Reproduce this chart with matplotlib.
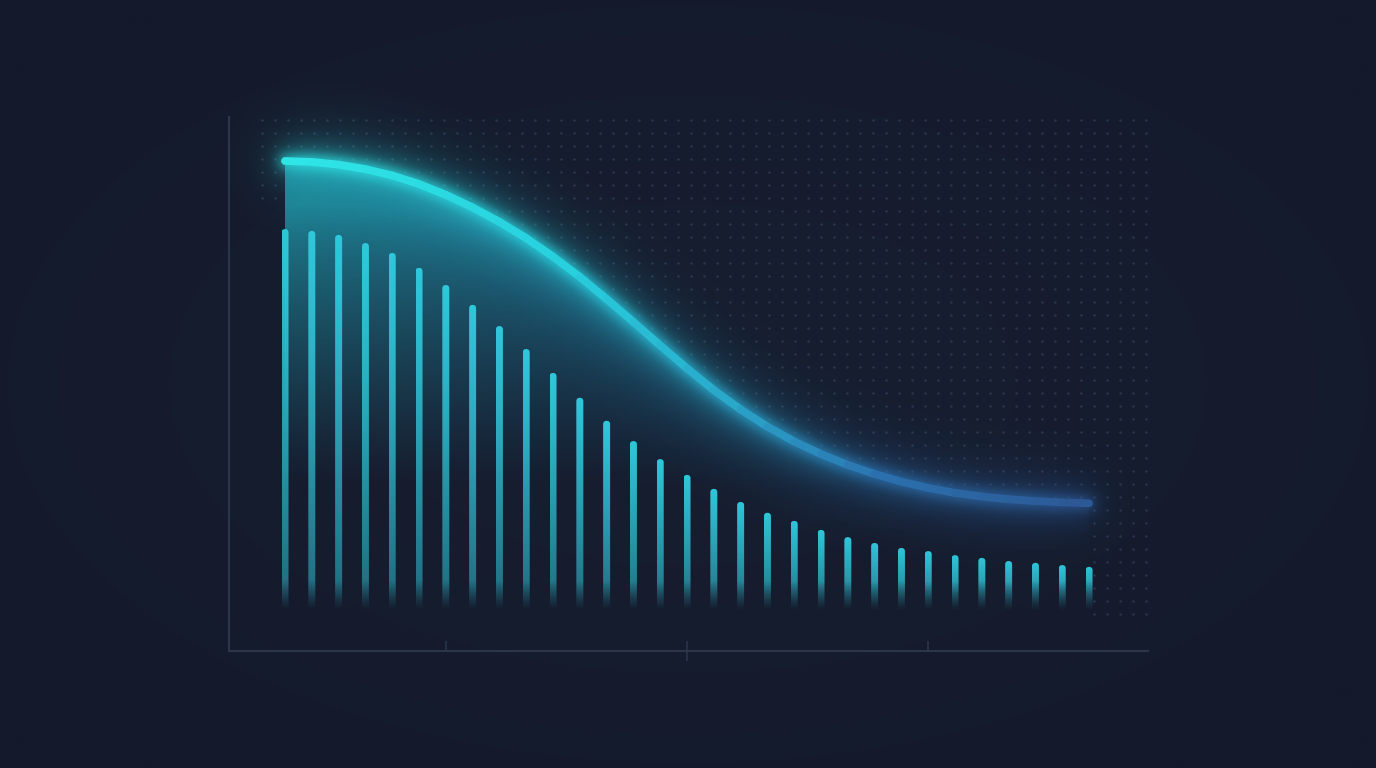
import numpy as np
import matplotlib
matplotlib.use("Agg")
import matplotlib.pyplot as plt
from matplotlib.collections import LineCollection
from matplotlib.colors import LinearSegmentedColormap, to_rgb
from matplotlib.patches import FancyBboxPatch

# ---------------- data ----------------
bar_index = list(range(31))
bar_values = [84.9, 84.5, 83.6, 81.8, 79.6, 76.3, 72.5, 68.1, 63.4, 58.3, 53.0,
              47.5, 42.4, 37.9, 33.9, 30.4, 27.3, 24.4, 22.0, 20.2, 18.2, 16.6,
              15.3, 14.2, 13.5, 12.6, 12.0, 11.3, 10.9, 10.4, 10.0]
curve_values = [100.0, 99.8, 99.2, 98.2, 96.8, 94.9, 92.5, 89.7, 86.5, 82.9, 78.8,
                74.3, 69.4, 64.3, 59.1, 54.0, 49.2, 44.9, 41.1, 37.8, 35.0, 32.6,
                30.6, 28.9, 27.5, 26.4, 25.6, 25.0, 24.6, 24.3, 24.1]
x_ticks_minor = [6, 24]
x_ticks_major = [15]

# ---------------- style ----------------
BG_CENTER = "#171e30"
BG_EDGE = "#141a2b"
AXIS_COLOR = "#2c3649"
DOT_COLOR = "#34405a"
BAR_COLOR = "#31c8dc"
FILL_LEFT = "#2090a2"
FILL_RIGHT = "#1d4478"
line_cmap = LinearSegmentedColormap.from_list(
    "line", [(0.0, "#2fe6e6"), (0.35, "#28d0de"), (0.55, "#2aa8ca"),
             (0.75, "#2b6fae"), (1.0, "#2c5894")])

W, H = 1376, 768
AX_RECT = [229 / W, 117 / H, 919 / W, 534 / H]
XLIM = (-2.09, 32.2)
YLIM = (-8.65, 109.76)

x = np.array(bar_index, dtype=float)
yc = np.array(curve_values)
yb = np.array(bar_values)
pts = np.column_stack([x, yc]).reshape(-1, 1, 2)
segs = np.concatenate([pts[:-1], pts[1:]], axis=1)
seg_cols = line_cmap((x[:-1] + 0.5) / 30.0)


def box_blur(a, r, axis):
    pad = [(0, 0)] * a.ndim
    pad[axis] = (r + 1, r)
    ap = np.pad(a, pad, mode="constant")
    c = np.cumsum(ap, axis=axis)
    n = a.shape[axis]
    hi = np.take(c, np.arange(2 * r + 1, 2 * r + 1 + n), axis=axis)
    lo = np.take(c, np.arange(0, n), axis=axis)
    return (hi - lo) / (2 * r + 1)


def gauss(a, r):
    for _ in range(3):
        a = box_blur(a, r, 0)
        a = box_blur(a, r, 1)
    return a


# ---- offscreen render of the curve for the glow ----
fig2 = plt.figure(figsize=(W / 100, H / 100), dpi=100)
fig2.patch.set_alpha(0)
ax2 = fig2.add_axes(AX_RECT)
ax2.set_xlim(*XLIM)
ax2.set_ylim(*YLIM)
ax2.set_axis_off()
ax2.add_collection(LineCollection(segs, colors=seg_cols, linewidths=9,
                                  capstyle="round", joinstyle="round"))
fig2.canvas.draw()
buf = np.asarray(fig2.canvas.buffer_rgba()).astype(float) / 255.0
plt.close(fig2)
a0 = buf[..., 3]
prgb = buf[..., :3] * a0[..., None]
glow_a = np.zeros_like(a0)
glow_p = np.zeros_like(prgb)
for r, gain in [(5, 0.55), (13, 0.7), (26, 0.55), (40, 0.45)]:
    ab = gauss(a0, r)
    pb = np.stack([gauss(prgb[..., k], r) for k in range(3)], axis=-1)
    glow_a += gain * ab
    glow_p += gain * pb
glow_rgb = glow_p / np.maximum(glow_a, 1e-6)[..., None]
glow_img = np.dstack([np.clip(glow_rgb, 0, 1), np.clip(glow_a, 0, 1)])

# ---------------- main figure ----------------
fig = plt.figure(figsize=(W / 100, H / 100), dpi=100)

# background vignette
bg_ax = fig.add_axes([0, 0, 1, 1], zorder=-10)
yy, xx = np.mgrid[0:1:200j, 0:1:360j]
rr = np.sqrt(((xx - 0.5) / 0.6) ** 2 + ((yy - 0.5) / 0.6) ** 2)
rr = np.clip(rr, 0, 1) ** 1.5
c0, c1 = np.array(to_rgb(BG_CENTER)), np.array(to_rgb(BG_EDGE))
bg_img = c0[None, None, :] * (1 - rr[..., None]) + c1[None, None, :] * rr[..., None]
bg_ax.imshow(bg_img, extent=(0, 1, 0, 1), aspect="auto", interpolation="bicubic")
bg_ax.set_axis_off()

ax = fig.add_axes(AX_RECT)
ax.patch.set_alpha(0)

# dot grid (only above / right of the curve)
gx = np.arange(-0.86, 32.25, 0.485)
gy = np.arange(-0.44, 109.8, 2.88)
GX, GY = np.meshgrid(gx, gy)
limit = np.interp(GX, x, yc, left=88, right=-20)
keep = (GY > limit + 1.0) | (GX > 30.45)
ax.scatter(GX[keep], GY[keep], s=3.0, color=DOT_COLOR, alpha=0.75,
           linewidths=0, zorder=1)

# gradient fill under curve
nx, ny = 400, 300
fx = np.linspace(0, 30, nx)
fy = np.linspace(-1, 101, ny)
FX, FY = np.meshgrid(fx, fy)
cl, cr = np.array(to_rgb(FILL_LEFT)), np.array(to_rgb(FILL_RIGHT))
t = (FX / 30.0)[..., None]
col = cl * (1 - t) + cr * t
curve_at = np.interp(FX, x, yc)
a_y = np.clip((FY - 28) / 66.0, 0, 1) ** 1.1
a_near = np.exp(-np.clip(curve_at - FY, 0, None) / 10.0)
alpha = np.clip(0.85 * a_y + 0.25 * a_near * np.clip((FY - 10) / 20, 0, 1), 0, 0.9)
fill_img = np.dstack([col, alpha])
im = ax.imshow(fill_img, extent=(0, 30, -1, 101), origin="lower",
               aspect="auto", interpolation="bilinear", zorder=2)
poly = ax.fill_between(x, yc, 0, facecolor="none", edgecolor="none")
im.set_clip_path(poly.get_paths()[0], transform=ax.transData)

# bars with vertical fade
bw = 7 / 26.8
ry = 3.5 / 4.51
bar_rgb = np.array(to_rgb(BAR_COLOR))
for xi, h in zip(x, yb):
    patch = FancyBboxPatch((xi - bw / 2, 0), bw, h,
                           boxstyle=f"round,pad=0,rounding_size={bw / 2}",
                           mutation_aspect=ry / (bw / 2),
                           transform=ax.transData)
    v = np.linspace(0, h, 160)
    tt = v / h
    a = np.clip((v - 0.3) / 6.5, 0, 1) ** 1.1 * (0.42 + 0.58 * tt ** 0.8)
    grad = np.zeros((160, 1, 4))
    grad[:, 0, :3] = bar_rgb
    grad[:, 0, 3] = np.clip(a, 0, 1)
    bim = ax.imshow(grad, extent=(xi - bw / 2, xi + bw / 2, 0, h),
                    origin="lower", aspect="auto", interpolation="bilinear",
                    zorder=4)
    bim.set_clip_path(patch)

# glow layer (covers whole figure, in data coordinates)
ppx = 919 / (XLIM[1] - XLIM[0])
ppy = 534 / (YLIM[1] - YLIM[0])
ext = (XLIM[0] - 229 / ppx, XLIM[1] + 228 / ppx,
       YLIM[0] - 117 / ppy, YLIM[1] + 117 / ppy)
ax.imshow(glow_img, extent=ext, origin="upper", aspect="auto",
          interpolation="nearest", zorder=5, clip_on=False)

# main curve
ax.add_collection(LineCollection(segs, colors=seg_cols, linewidths=5.6,
                                 capstyle="round", joinstyle="round", zorder=6))

# axes styling
ax.set_xlim(*XLIM)
ax.set_ylim(*YLIM)
for s in ["top", "right"]:
    ax.spines[s].set_visible(False)
for s in ["left", "bottom"]:
    ax.spines[s].set_color(AXIS_COLOR)
    ax.spines[s].set_linewidth(1.5)
ax.set_yticks([])
ax.set_xticks(x_ticks_major)
ax.set_xticks(x_ticks_minor, minor=True)
ax.tick_params(axis="x", which="major", direction="inout", length=14,
               width=1.2, color=AXIS_COLOR, labelbottom=False)
ax.tick_params(axis="x", which="minor", direction="in", length=7,
               width=1.2, color=AXIS_COLOR, labelbottom=False)

fig.savefig("out.png", dpi=100, facecolor=BG_EDGE)
